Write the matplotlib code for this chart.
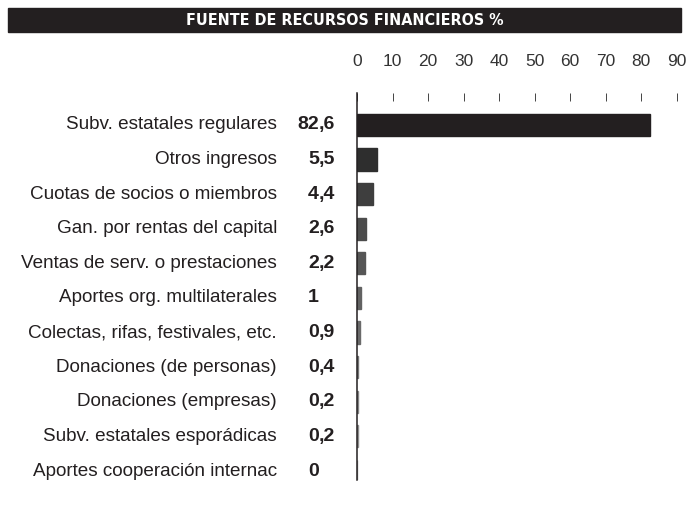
import matplotlib
matplotlib.use("Agg")
import matplotlib.pyplot as plt

categories = [
    "Subv. estatales regulares",
    "Otros ingresos",
    "Cuotas de socios o miembros",
    "Gan. por rentas del capital",
    "Ventas de serv. o prestaciones",
    "Aportes org. multilaterales",
    "Colectas, rifas, festivales, etc.",
    "Donaciones (de personas)",
    "Donaciones (empresas)",
    "Subv. estatales esporádicas",
    "Aportes cooperación internac",
]
values = [82.6, 5.5, 4.4, 2.6, 2.2, 1, 0.9, 0.4, 0.2, 0.2, 0]
value_labels = ["82,6", "5,5", "4,4", "2,6", "2,2", "1", "0,9", "0,4", "0,2", "0,2", "0"]
bar_colors = ["#231f20", "#2e2e2e", "#3e3e3e", "#4c4c4c", "#565656",
              "#626262", "#6a6a6a", "#767676", "#858585", "#8e8e8e", "#999999"]
xticks = [0, 10, 20, 30, 40, 50, 60, 70, 80, 90]

W, H = 689, 507
fig = plt.figure(figsize=(W / 100, H / 100), dpi=100)
text_color = "#231f20"
px = 72 / 100  # points per pixel

# Title banner
fig.patches.append(plt.Rectangle((8 / W, 1 - 32 / H), (681 - 8) / W, 24 / H,
                                 transform=fig.transFigure, color="#231f20", zorder=0))
fig.text(0.5 * (8 + 681) / W, 1 - 20.5 / H, "FUENTE DE RECURSOS FINANCIEROS %",
         ha="center", va="center", color="white", fontsize=11.5, fontweight="bold",
         fontstretch="condensed", family="DejaVu Sans")

left, right = 357 / W, 676.5 / W
top, bottom = 1 - 93 / H, 1 - 480 / H
ax = fig.add_axes([left, bottom, right - left, top - bottom])

y = list(range(len(categories)))
ax.barh(y, values, height=0.64, color=bar_colors, edgecolor=bar_colors, linewidth=1.0)
ax.set_xlim(0, 90)
ax.set_ylim(10.26, -0.92)

for s in ["top", "right", "bottom"]:
    ax.spines[s].set_visible(False)
ax.spines["left"].set_linewidth(1.1)
ax.spines["left"].set_color(text_color)
ax.spines["left"].set_zorder(5)

ax.set_yticks([])
ax.xaxis.tick_top()
ax.set_xticks(xticks)
ax.set_xticklabels([str(t) for t in xticks], family="Liberation Sans",
                   fontsize=12.5, color="#333333")
ax.tick_params(axis="x", which="major", direction="in", length=5.5, width=0.7,
               color="#444444", pad=17)

for yi, cat, lab in zip(y, categories, value_labels):
    ax.annotate(cat, xy=(0, yi), xycoords=("axes fraction", "data"),
                xytext=(-80 * px, 0), textcoords="offset points",
                ha="right", va="center", fontsize=13.6, color=text_color,
                family="Liberation Sans")
    # numbers aligned on the decimal comma
    whole, _, frac = lab.partition(",")
    ax.annotate(whole, xy=(0, yi), xycoords=("axes fraction", "data"),
                xytext=(-38 * px, 0), textcoords="offset points",
                ha="right", va="center", fontsize=14, fontweight="bold",
                color=text_color, family="Liberation Sans")
    if frac:
        ax.annotate("," + frac, xy=(0, yi), xycoords=("axes fraction", "data"),
                    xytext=(-38 * px, 0), textcoords="offset points",
                    ha="left", va="center", fontsize=14, fontweight="bold",
                    color=text_color, family="Liberation Sans")

fig.savefig("out.png", dpi=100)
